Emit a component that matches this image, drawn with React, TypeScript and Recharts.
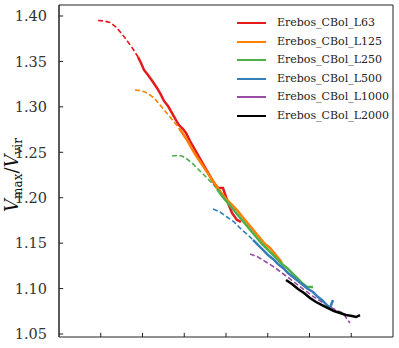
import React from "react";
import { LineChart, Line, XAxis, YAxis, ReferenceArea, ReferenceLine } from "recharts";

// ---- data ----
const seriesNames = [
  "Erebos_CBol_L63",
  "Erebos_CBol_L125",
  "Erebos_CBol_L250",
  "Erebos_CBol_L500",
  "Erebos_CBol_L1000",
  "Erebos_CBol_L2000",
];
const seriesColors = ["#e41a1c", "#ff7f00", "#4daf4a", "#377eb8", "#984ea3", "#000000"];

const yTicks = [1.05, 1.1, 1.15, 1.2, 1.25, 1.3, 1.35, 1.4];
const xTicks = [1, 2, 3, 4, 5, 6, 7];

const l63Dashed = [
  { x: 0.934, y: 1.395 }, { x: 1.078, y: 1.3945 }, { x: 1.222, y: 1.3928 }, { x: 1.365, y: 1.3879 },
  { x: 1.509, y: 1.3802 }, { x: 1.653, y: 1.3714 }, { x: 1.772, y: 1.3637 }, { x: 1.892, y: 1.3549 },
];
const l63Solid = [
  { x: 1.892, y: 1.3549 }, { x: 1.964, y: 1.3483 }, { x: 2.036, y: 1.3406 }, { x: 2.132, y: 1.3351 },
  { x: 2.251, y: 1.3274 }, { x: 2.347, y: 1.3208 }, { x: 2.443, y: 1.3131 }, { x: 2.515, y: 1.3065 },
  { x: 2.611, y: 1.3009 }, { x: 2.707, y: 1.2932 }, { x: 2.802, y: 1.2855 }, { x: 2.874, y: 1.28 },
  { x: 2.97, y: 1.2756 }, { x: 3.042, y: 1.2712 }, { x: 3.138, y: 1.2624 }, { x: 3.234, y: 1.2547 },
  { x: 3.329, y: 1.247 }, { x: 3.425, y: 1.2393 }, { x: 3.521, y: 1.2316 }, { x: 3.617, y: 1.2239 },
  { x: 3.713, y: 1.2162 }, { x: 3.808, y: 1.2107 }, { x: 3.928, y: 1.2107 }, { x: 4.048, y: 1.1942 },
  { x: 4.144, y: 1.1832 }, { x: 4.263, y: 1.1755 }, { x: 4.359, y: 1.1733 },
];
const l125Dashed = [
  { x: 1.82, y: 1.3186 }, { x: 1.94, y: 1.318 }, { x: 2.06, y: 1.3164 }, { x: 2.18, y: 1.3131 },
  { x: 2.299, y: 1.3087 }, { x: 2.419, y: 1.302 }, { x: 2.539, y: 1.2954 }, { x: 2.659, y: 1.2888 },
  { x: 2.778, y: 1.2822 }, { x: 2.874, y: 1.2767 },
];
const l125Solid = [
  { x: 2.874, y: 1.2767 }, { x: 2.97, y: 1.2701 }, { x: 3.066, y: 1.2635 }, { x: 3.162, y: 1.2558 },
  { x: 3.257, y: 1.2481 }, { x: 3.353, y: 1.2415 }, { x: 3.449, y: 1.2349 }, { x: 3.545, y: 1.2283 },
  { x: 3.641, y: 1.2217 }, { x: 3.737, y: 1.2151 }, { x: 3.832, y: 1.2085 }, { x: 3.928, y: 1.203 },
  { x: 4.024, y: 1.1975 }, { x: 4.144, y: 1.192 }, { x: 4.263, y: 1.1865 }, { x: 4.359, y: 1.181 },
  { x: 4.455, y: 1.1755 }, { x: 4.575, y: 1.1689 }, { x: 4.695, y: 1.1623 }, { x: 4.814, y: 1.1557 },
  { x: 4.934, y: 1.1491 }, { x: 5.054, y: 1.1447 }, { x: 5.174, y: 1.1381 }, { x: 5.293, y: 1.1315 },
  { x: 5.341, y: 1.1282 },
];
const l250Dashed = [
  { x: 2.707, y: 1.2459 }, { x: 2.826, y: 1.2465 }, { x: 2.946, y: 1.2459 }, { x: 3.066, y: 1.2426 },
  { x: 3.186, y: 1.2382 }, { x: 3.305, y: 1.2327 }, { x: 3.425, y: 1.2272 }, { x: 3.545, y: 1.2217 },
  { x: 3.665, y: 1.2162 }, { x: 3.784, y: 1.2096 },
];
const l250Solid = [
  { x: 3.784, y: 1.2096 }, { x: 3.904, y: 1.2019 }, { x: 4.024, y: 1.1953 }, { x: 4.144, y: 1.1887 },
  { x: 4.263, y: 1.1821 }, { x: 4.383, y: 1.1755 }, { x: 4.503, y: 1.1689 }, { x: 4.623, y: 1.1623 },
  { x: 4.743, y: 1.1557 }, { x: 4.862, y: 1.1491 }, { x: 4.982, y: 1.1436 }, { x: 5.102, y: 1.1381 },
  { x: 5.222, y: 1.1326 }, { x: 5.341, y: 1.1271 }, { x: 5.461, y: 1.1227 }, { x: 5.581, y: 1.1172 },
  { x: 5.701, y: 1.1117 }, { x: 5.82, y: 1.1062 }, { x: 5.94, y: 1.1017 }, { x: 6.084, y: 1.1017 },
];
const l500Dashed = [
  { x: 3.689, y: 1.1876 }, { x: 3.856, y: 1.1843 }, { x: 4.024, y: 1.1788 }, { x: 4.192, y: 1.1733 },
  { x: 4.359, y: 1.1656 }, { x: 4.527, y: 1.159 }, { x: 4.647, y: 1.1535 },
];
const l500Solid = [
  { x: 4.647, y: 1.1535 }, { x: 4.766, y: 1.148 }, { x: 4.886, y: 1.1425 }, { x: 5.006, y: 1.137 },
  { x: 5.126, y: 1.1326 }, { x: 5.246, y: 1.1271 }, { x: 5.365, y: 1.1227 }, { x: 5.485, y: 1.1172 },
  { x: 5.605, y: 1.1128 }, { x: 5.725, y: 1.1084 }, { x: 5.844, y: 1.1039 }, { x: 5.964, y: 1.0995 },
  { x: 6.084, y: 1.0962 }, { x: 6.204, y: 1.0907 }, { x: 6.299, y: 1.0874 }, { x: 6.395, y: 1.083 },
  { x: 6.491, y: 1.0786 }, { x: 6.563, y: 1.0874 },
];
const l1000Dashed = [
  { x: 4.575, y: 1.1381 }, { x: 4.766, y: 1.1348 }, { x: 4.958, y: 1.1293 }, { x: 5.15, y: 1.1238 },
  { x: 5.341, y: 1.1172 }, { x: 5.533, y: 1.1106 }, { x: 5.725, y: 1.1039 }, { x: 5.916, y: 1.0973 },
  { x: 6.108, y: 1.0907 }, { x: 6.299, y: 1.0852 }, { x: 6.491, y: 1.0797 }, { x: 6.683, y: 1.0753 },
  { x: 6.802, y: 1.0731 }, { x: 6.898, y: 1.0665 }, { x: 6.97, y: 1.0621 },
];
const l2000Solid = [
  { x: 5.437, y: 1.1094 }, { x: 5.581, y: 1.105 }, { x: 5.725, y: 1.0995 }, { x: 5.868, y: 1.0951 },
  { x: 6.012, y: 1.0896 }, { x: 6.156, y: 1.0852 }, { x: 6.299, y: 1.0819 }, { x: 6.443, y: 1.0786 },
  { x: 6.587, y: 1.0753 }, { x: 6.731, y: 1.0731 }, { x: 6.874, y: 1.0709 }, { x: 7.018, y: 1.0698 },
  { x: 7.114, y: 1.0687 }, { x: 7.21, y: 1.0709 },
];

const X_DOMAIN: [number, number] = [0, 8];
const Y_DOMAIN: [number, number] = [1.0467, 1.4121];
const X_TICK_LEN = 0.1; // in x units (~4px)
const Y_TICK_LEN = 0.0045; // in y units (~4px)

const FONT = "'DejaVu Serif', serif";
const AXIS_COLOR = "#222";

const YLabel = () => (
  <text
    x={18}
    y={175}
    transform="rotate(-90, 18, 175)"
    textAnchor="middle"
    fontFamily={FONT}
    fill="#111"
  >
    <tspan fontSize={18} fontStyle="italic">V</tspan>
    <tspan fontSize={12} dy={4}>max</tspan>
    <tspan fontSize={18} dy={-4}>/</tspan>
    <tspan fontSize={18} fontStyle="italic">V</tspan>
    <tspan fontSize={12} dy={4}>vir</tspan>
  </text>
);

const YTick = (props: any) => {
  const { x, y, payload } = props;
  return (
    <text
      x={x}
      y={y}
      dy="0.36em"
      textAnchor="end"
      fontFamily={FONT}
      fontSize={14.5}
      fill="#333"
    >
      {Number(payload.value).toFixed(2)}
    </text>
  );
};

const LegendBox = () => (
  <div
    style={{
      position: "absolute",
      left: 237,
      top: 14,
      fontFamily: FONT,
      fontSize: 11,
      color: "#222",
      lineHeight: "18.5px",
    }}
  >
    {seriesNames.map((n, i) => (
      <div key={n} style={{ display: "flex", alignItems: "center", height: 18.5 }}>
        <span
          style={{
            display: "inline-block",
            width: 29,
            height: 2,
            background: seriesColors[i],
            marginRight: 11,
          }}
        />
        <span>{n}</span>
      </div>
    ))}
  </div>
);

const dashedProps = { strokeWidth: 1.6, strokeDasharray: "5 2.5", dot: false, isAnimationActive: false, legendType: "none" as const };
const solidProps = { strokeWidth: 2.5, dot: false, isAnimationActive: false, legendType: "none" as const };

export default function App() {
  return (
    <div style={{ position: "absolute", left: 0, top: 0, width: 399, height: 348 }}>
      <LineChart width={399} height={348} margin={{ top: 5, right: 6, bottom: 11, left: 0 }}>
        <XAxis
          type="number"
          dataKey="x"
          domain={X_DOMAIN}
          ticks={xTicks}
          tick={false}
          tickLine={false}
          height={0}
          allowDataOverflow
          stroke={AXIS_COLOR}
        />
        <YAxis
          type="number"
          dataKey="y"
          domain={Y_DOMAIN}
          ticks={yTicks}
          width={59}
          tickLine={false}
          tickMargin={6}
          allowDataOverflow
          stroke={AXIS_COLOR}
          tick={<YTick />}
          label={<YLabel />}
        />
        <ReferenceArea
          x1={X_DOMAIN[0]}
          x2={X_DOMAIN[1]}
          y1={Y_DOMAIN[0]}
          y2={Y_DOMAIN[1]}
          fill="none"
          fillOpacity={0}
          stroke={AXIS_COLOR}
          strokeWidth={1}
        />
        {xTicks.map((t) => (
          <ReferenceLine
            key={`xt${t}`}
            segment={[
              { x: t, y: Y_DOMAIN[0] },
              { x: t, y: Y_DOMAIN[0] + Y_TICK_LEN },
            ]}
            stroke={AXIS_COLOR}
            strokeWidth={1}
          />
        ))}
        {yTicks.map((t) => (
          <ReferenceLine
            key={`yt${t}`}
            segment={[
              { x: X_DOMAIN[0], y: t },
              { x: X_DOMAIN[0] + X_TICK_LEN, y: t },
            ]}
            stroke={AXIS_COLOR}
            strokeWidth={1}
          />
        ))}
        <Line data={l63Dashed} dataKey="y" stroke={seriesColors[0]} {...dashedProps} />
        <Line data={l125Dashed} dataKey="y" stroke={seriesColors[1]} {...dashedProps} />
        <Line data={l250Dashed} dataKey="y" stroke={seriesColors[2]} {...dashedProps} />
        <Line data={l500Dashed} dataKey="y" stroke={seriesColors[3]} {...dashedProps} />
        <Line data={l1000Dashed} dataKey="y" stroke={seriesColors[4]} {...dashedProps} />
        <Line data={l63Solid} dataKey="y" stroke={seriesColors[0]} {...solidProps} />
        <Line data={l125Solid} dataKey="y" stroke={seriesColors[1]} {...solidProps} />
        <Line data={l250Solid} dataKey="y" stroke={seriesColors[2]} {...solidProps} />
        <Line data={l500Solid} dataKey="y" stroke={seriesColors[3]} {...solidProps} />
        <Line data={l2000Solid} dataKey="y" stroke={seriesColors[5]} {...solidProps} />
      </LineChart>
      <LegendBox />
    </div>
  );
}
